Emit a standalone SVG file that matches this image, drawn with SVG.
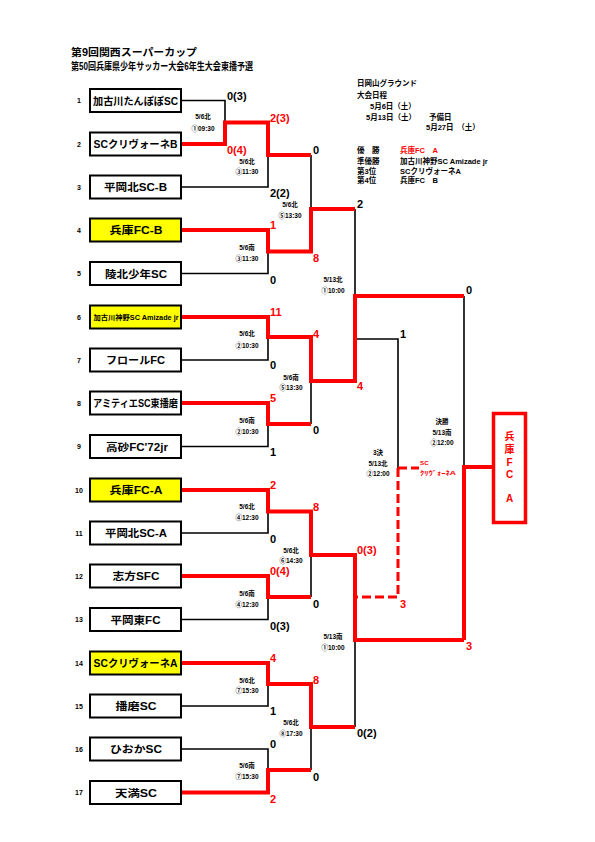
<svg xmlns="http://www.w3.org/2000/svg" width="595" height="842" viewBox="0 0 595 842">
<style>
text{font-family:"Liberation Sans","Noto Sans CJK JP",sans-serif;font-weight:bold}
.box{fill:#fff;stroke:#000;stroke-width:2}
.yel{fill:#ffff00}
.nm{font-size:10.5px;text-anchor:middle}
.no{font-size:7px;text-anchor:middle}
.sc{font-size:11px}
.red{fill:#ff0000}
.lb{font-size:6.5px;text-anchor:middle}
.inf{font-size:7.5px}
.bl{fill:none;stroke:#000;stroke-width:1.6}
.rd{fill:none;stroke:#ff0000;stroke-width:4}
.dash{fill:none;stroke:#ff0000;stroke-width:3;stroke-dasharray:9 4}
.ttl{font-size:10px}
</style>
<rect width="595" height="842" fill="#fff"/>
<g id="title">
<text class="ttl" x="71" y="56" textLength="126" lengthAdjust="spacingAndGlyphs">第9回関西スーパーカップ</text>
<text class="ttl" x="71" y="70" textLength="182" lengthAdjust="spacingAndGlyphs">第50回兵庫県少年サッカー大会6年生大会東播予選</text>
</g>
<g id="info" class="inf">
<text class="inf" x="357" y="86">日岡山グラウンド</text>
<text class="inf" x="357" y="98">大会日程</text>
<text class="inf" x="370" y="108.5">5月6日（土）</text>
<text class="inf" x="366" y="119.5">5月13日（土）</text>
<text class="inf" x="429" y="119.5">予備日</text>
<text class="inf" x="426" y="130">5月27日　（土）</text>
<text class="inf" x="357" y="153">優　勝</text>
<text class="inf red" x="400" y="153">兵庫FC　A</text>
<text class="inf" x="357" y="163.5">準優勝</text>
<text class="inf" x="400" y="163.5">加古川神野SC Amizade jr</text>
<text class="inf" x="357" y="173.5">第3位</text>
<text class="inf" x="400" y="173.5">SCクリヴォーネA</text>
<text class="inf" x="357" y="183">第4位</text>
<text class="inf" x="400" y="183">兵庫FC　B</text>
</g>
<g id="connectors">
<path class="bl" d="M181,100.5H225V122.5"/>
<path class="bl" d="M181,187H268V155"/>
<path class="bl" d="M181,273.5H268V251.5"/>
<path class="bl" d="M311,155V209"/>
<path class="bl" d="M181,360H268V337"/>
<path class="bl" d="M181,446.5H268V424"/>
<path class="bl" d="M311,424V381"/>
<path class="bl" d="M355,209V296"/>
<path class="bl" d="M181,533H268V511.5"/>
<path class="bl" d="M181,619.5H268V597"/>
<path class="bl" d="M311,597V555"/>
<path class="bl" d="M181,706H268V684"/>
<path class="bl" d="M181,749H268V770"/>
<path class="bl" d="M311,770V727"/>
<path class="bl" d="M355,727V640"/>
<path class="bl" d="M464,296V467"/>
<path class="bl" d="M355,339H398V468"/>
<path class="rd" d="M181,144H225V122.5H268V155H311"/>
<path class="rd" d="M181,230H268V251.5H311V209H355"/>
<path class="rd" d="M181,317H268V337H311V381H355V296H464"/>
<path class="rd" d="M181,403H268V424H311"/>
<path class="rd" d="M181,490H268V511.5H311V555H355V640H464"/>
<path class="rd" d="M181,576H268V597H311"/>
<path class="rd" d="M181,663H268V684H311V727H355"/>
<path class="rd" d="M181,792.5H268V770H311"/>
<path class="rd" d="M464,640V467H493"/>
<path class="dash" d="M398,468V597H355"/>
<path class="dash" d="M398,468H419"/>
</g>
<g id="teams">
<g id="t1"><text class="no" x="79" y="103">1</text><rect class="box" x="90" y="89" width="91" height="23"/><text class="nm" x="135.5" y="104.5" textLength="85" lengthAdjust="spacingAndGlyphs">加古川たんぽぽSC</text></g>
<g id="t2"><text class="no" x="79" y="146.5">2</text><rect class="box" x="90" y="132.5" width="91" height="23"/><text class="nm" x="135.5" y="148" textLength="84" lengthAdjust="spacingAndGlyphs">SCクリヴォーネB</text></g>
<g id="t3"><text class="no" x="79" y="189.5">3</text><rect class="box" x="90" y="175.5" width="91" height="23"/><text class="nm" x="135.5" y="191" textLength="63" lengthAdjust="spacingAndGlyphs">平岡北SC-B</text></g>
<g id="t4"><text class="no" x="79" y="232.5">4</text><rect class="box yel" x="90" y="218.5" width="91" height="23"/><text class="nm" x="136" y="234" textLength="53" lengthAdjust="spacingAndGlyphs">兵庫FC-B</text></g>
<g id="t5"><text class="no" x="79" y="276">5</text><rect class="box" x="90" y="262" width="91" height="23"/><text class="nm" x="136" y="277.5" textLength="62" lengthAdjust="spacingAndGlyphs">陵北少年SC</text></g>
<g id="t6"><text class="no" x="79" y="319.5">6</text><rect class="box yel" x="90" y="305.5" width="91" height="23"/><text x="136" y="319.5" style="font-size:6.8px;text-anchor:middle" textLength="85" lengthAdjust="spacingAndGlyphs">加古川神野SC Amizade jr</text></g>
<g id="t7"><text class="no" x="79" y="362.5">7</text><rect class="box" x="90" y="348.5" width="91" height="23"/><text class="nm" x="135.5" y="364" textLength="59" lengthAdjust="spacingAndGlyphs">フロールFC</text></g>
<g id="t8"><text class="no" x="79" y="405.5">8</text><rect class="box" x="90" y="391.5" width="91" height="23"/><text class="nm" x="135.5" y="407" textLength="85" lengthAdjust="spacingAndGlyphs">アミティエSC東播磨</text></g>
<g id="t9"><text class="no" x="79" y="449">9</text><rect class="box" x="90" y="435" width="91" height="23"/><text class="nm" x="137" y="450.5" textLength="62" lengthAdjust="spacingAndGlyphs">高砂FC'72jr</text></g>
<g id="t10"><text class="no" x="79" y="492.5">10</text><rect class="box yel" x="90" y="478.5" width="91" height="23"/><text class="nm" x="136" y="494" textLength="53" lengthAdjust="spacingAndGlyphs">兵庫FC-A</text></g>
<g id="t11"><text class="no" x="79" y="535.5">11</text><rect class="box" x="90" y="521.5" width="91" height="23"/><text class="nm" x="136" y="537" textLength="62" lengthAdjust="spacingAndGlyphs">平岡北SC-A</text></g>
<g id="t12"><text class="no" x="79" y="578.5">12</text><rect class="box" x="90" y="564.5" width="91" height="23"/><text class="nm" x="136" y="580" textLength="47" lengthAdjust="spacingAndGlyphs">志方SFC</text></g>
<g id="t13"><text class="no" x="79" y="622">13</text><rect class="box" x="90" y="608" width="91" height="23"/><text class="nm" x="135.5" y="623.5" textLength="50" lengthAdjust="spacingAndGlyphs">平岡東FC</text></g>
<g id="t14"><text class="no" x="79" y="665.5">14</text><rect class="box yel" x="90" y="651.5" width="91" height="23"/><text class="nm" x="135.5" y="667" textLength="84" lengthAdjust="spacingAndGlyphs">SCクリヴォーネA</text></g>
<g id="t15"><text class="no" x="79" y="708.5">15</text><rect class="box" x="90" y="694.5" width="91" height="23"/><text class="nm" x="136" y="710" textLength="41" lengthAdjust="spacingAndGlyphs">播磨SC</text></g>
<g id="t16"><text class="no" x="79" y="751.5">16</text><rect class="box" x="90" y="737.5" width="91" height="23"/><text class="nm" x="136" y="753" textLength="52" lengthAdjust="spacingAndGlyphs">ひおかSC</text></g>
<g id="t17"><text class="no" x="79" y="795">17</text><rect class="box" x="90" y="781" width="91" height="23"/><text class="nm" x="136" y="796.5" textLength="42" lengthAdjust="spacingAndGlyphs">天満SC</text></g>
</g>
<g id="winner">
<rect x="493.5" y="413.5" width="32" height="109" fill="none" stroke="#ff0000" stroke-width="3.5"/>
<g class="red" style="font-size:10px;text-anchor:middle">
<text x="509.5" y="440" style="text-anchor:middle">兵</text>
<text x="509.5" y="453" style="text-anchor:middle">庫</text>
<text x="509.5" y="466" style="text-anchor:middle">F</text>
<text x="509.5" y="478" style="text-anchor:middle">C</text>
<text x="509.5" y="502" style="text-anchor:middle">A</text>
</g>
</g>
<g id="scores" class="sc">
<text class="sc" x="227" y="100">0(3)</text>
<text class="sc red" x="270" y="122">2(3)</text>
<text class="sc red" x="227" y="154">0(4)</text>
<text class="sc" x="313" y="154">0</text>
<text class="sc" x="270" y="197">2(2)</text>
<text class="sc" x="357" y="208">2</text>
<text class="sc red" x="270" y="229">1</text>
<text class="sc red" x="313" y="262">8</text>
<text class="sc" x="270" y="284">0</text>
<text class="sc" x="466" y="294">0</text>
<text class="sc red" x="270" y="316">11</text>
<text class="sc red" x="313" y="338">4</text>
<text class="sc" x="400" y="338">1</text>
<text class="sc" x="270" y="369">0</text>
<text class="sc red" x="357" y="390">4</text>
<text class="sc red" x="270" y="402">5</text>
<text class="sc" x="313" y="434">0</text>
<text class="sc" x="270" y="456">1</text>
<text class="sc red" x="270" y="489">2</text>
<text class="sc red" x="313" y="511">8</text>
<text class="sc" x="270" y="543">0</text>
<text class="sc red" x="357" y="554">0(3)</text>
<text class="sc red" x="270" y="575">0(4)</text>
<text class="sc red" x="400" y="608">3</text>
<text class="sc" x="313" y="608">0</text>
<text class="sc" x="270" y="630">0(3)</text>
<text class="sc red" x="466" y="650">3</text>
<text class="sc red" x="270" y="662">4</text>
<text class="sc red" x="313" y="684">8</text>
<text class="sc" x="270" y="715">1</text>
<text class="sc" x="357" y="737">0(2)</text>
<text class="sc" x="270" y="748">0</text>
<text class="sc" x="313" y="781">0</text>
<text class="sc red" x="270" y="803">2</text>
</g>
<g id="matchlabels" class="lb">
<text class="lb" x="203" y="118.5">5/6北</text><text class="lb" x="203" y="130.5">①09:30</text>
<text class="lb" x="247" y="163.5">5/6北</text><text class="lb" x="247" y="173.5">③11:30</text>
<text class="lb" x="290" y="206.5">5/6北</text><text class="lb" x="290" y="217.5">⑤13:30</text>
<text class="lb" x="247" y="249.5">5/6南</text><text class="lb" x="247" y="260.5">③11:30</text>
<text class="lb" x="333" y="281.5">5/13北</text><text class="lb" x="333" y="292.5">①10:00</text>
<text class="lb" x="247" y="335.5">5/6北</text><text class="lb" x="247" y="347.5">②10:30</text>
<text class="lb" x="291" y="379.5">5/6南</text><text class="lb" x="291" y="389.5">⑤13:30</text>
<text class="lb" x="247" y="422.5">5/6南</text><text class="lb" x="247" y="433.5">②10:30</text>
<text class="lb" x="378" y="454.5">3決</text><text class="lb" x="378" y="465.5">5/13北</text><text class="lb" x="378" y="476">②12:00</text>
<text class="lb" x="442" y="423.5">決勝</text><text class="lb" x="442" y="434.5">5/13南</text><text class="lb" x="442" y="445">②12:00</text>
<text class="lb" x="247" y="508.5">5/6北</text><text class="lb" x="247" y="519.5">④12:30</text>
<text class="lb" x="291" y="552.5">5/6北</text><text class="lb" x="291" y="562.5">⑥14:30</text>
<text class="lb" x="247" y="595.5">5/6南</text><text class="lb" x="247" y="606.5">④12:30</text>
<text class="lb" x="333" y="638.5">5/13南</text><text class="lb" x="333" y="649.5">①10:00</text>
<text class="lb" x="247" y="682.5">5/6北</text><text class="lb" x="247" y="692.5">⑦15:30</text>
<text class="lb" x="291" y="724.5">5/6北</text><text class="lb" x="291" y="735.5">⑧17:30</text>
<text class="lb" x="247" y="767.5">5/6南</text><text class="lb" x="247" y="778.5">⑦15:30</text>
</g>
<g id="thirdlabel" class="red" style="font-size:6.2px">
<text x="420" y="465">SC</text>
<text x="420" y="475" textLength="36" lengthAdjust="spacingAndGlyphs">ｸﾘｳﾞｫｰﾈA</text>
</g>
</svg>
